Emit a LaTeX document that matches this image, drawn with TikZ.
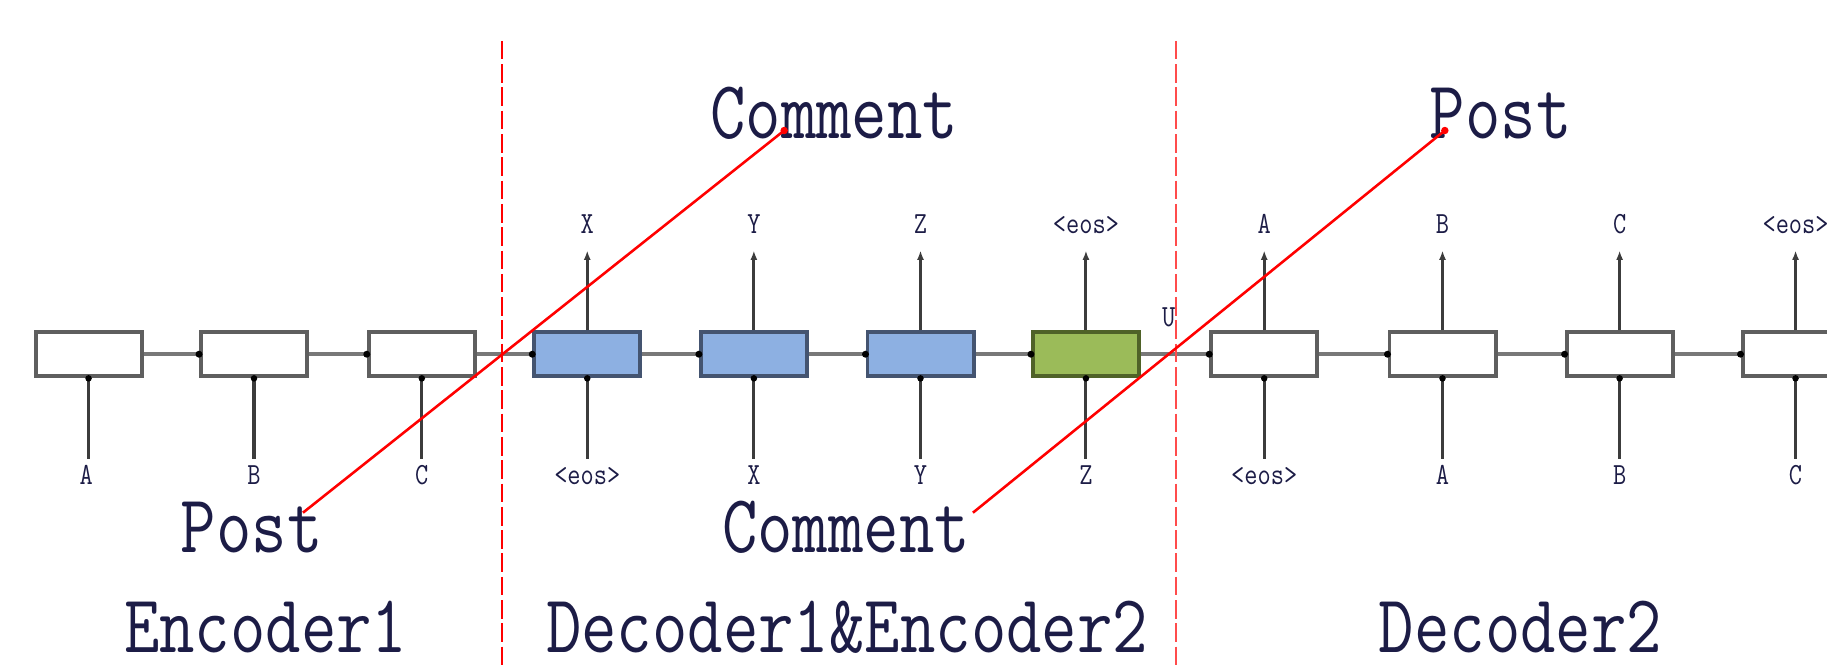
\documentclass[tikz,border=0pt]{standalone}
\usepackage{fontspec}
\usetikzlibrary{arrows.meta,calc}
\definecolor{txt}{RGB}{28,28,70}
\definecolor{boxline}{RGB}{95,95,95}
\definecolor{conn}{RGB}{120,120,120}
\definecolor{legc}{RGB}{60,60,60}
\definecolor{bluefill}{RGB}{141,176,226}
\definecolor{blueline}{RGB}{68,84,112}
\definecolor{greenfill}{RGB}{155,187,89}
\definecolor{greenline}{RGB}{79,98,40}
\newcommand{\tallA}[1]{\scalebox{1}[1.2]{#1}}
\newcommand{\tallB}[1]{\scalebox{1}[1.2]{#1}}
\tikzset{
  cell/.style={draw=boxline, line width=1.7pt, fill=white, minimum width=45.5pt, minimum height=19pt, inner sep=0pt},
  cellblue/.style={cell, draw=blueline, fill=bluefill},
  cellgreen/.style={cell, draw=greenline, fill=greenfill},
  bigtxt/.style={font=\fontsize{29.5}{31}\selectfont\ttfamily, text=txt, inner sep=0pt, anchor=base},
  smalltxt/.style={font=\fontsize{11}{12}\selectfont\ttfamily, text=txt, inner sep=0pt, anchor=base, text height=8pt, text depth=0pt},
  toplbl/.style={smalltxt, outer ysep=7.5pt},
  botlbl/.style={smalltxt, outer ysep=3pt},
  link/.style={draw=conn, line width=1.8pt},
  leg/.style={draw=legc, line width=1.3pt},
  uparr/.style={leg, -{Latex[length=4pt,width=3pt]}},
  divider/.style={draw=red, line width=1pt, dash pattern=on 8pt off 2pt},
  redlink/.style={draw=red, line width=1.1pt},
}
\begin{document}
\begin{tikzpicture}[x=0.5pt,y=-0.5pt]
\clip (0,0) rectangle (1568,570);
\fill[white] (0,0) rectangle (1568,570);

% boxes
\node[cell] (b1) at (76,304) {};
\node[cell] (b2) at (218,304) {};
\node[cell] (b3) at (362,304) {};
\node[cellblue] (b4) at (504,304) {};
\node[cellblue] (b5) at (647,304) {};
\node[cellblue] (b6) at (790,304) {};
\node[cellgreen] (b7) at (932,304) {};
\node[cell] (b8) at (1085,304) {};
\node[cell] (b9) at (1238,304) {};
\node[cell] (b10) at (1390,304) {};
\node[cell] (b11) at (1541,304) {};
\coordinate (bend) at (1600,304);

% bottom labels
\node[botlbl] (i1) at (74,416) {\tallB{A}};
\node[botlbl] (i2) at (218,416) {\tallB{B}};
\node[botlbl] (i3) at (362,416) {\tallB{C}};
\node[botlbl] (i4) at (504,416) {\tallB{<eos>}};
\node[botlbl] (i5) at (647,416) {\tallB{X}};
\node[botlbl] (i6) at (790,416) {\tallB{Y}};
\node[botlbl] (i7) at (932,416) {\tallB{Z}};
\node[botlbl] (i8) at (1085,416) {\tallB{<eos>}};
\node[botlbl] (i9) at (1238,416) {\tallB{A}};
\node[botlbl] (i10) at (1390,416) {\tallB{B}};
\node[botlbl] (i11) at (1541,416) {\tallB{C}};

% top labels
\node[toplbl] (o4) at (504,200) {\tallB{X}};
\node[toplbl] (o5) at (647,200) {\tallB{Y}};
\node[toplbl] (o6) at (790,200) {\tallB{Z}};
\node[toplbl] (o7) at (932,200) {\tallB{<eos>}};
\node[toplbl] (o8) at (1085,200) {\tallB{A}};
\node[toplbl] (o9) at (1238,200) {\tallB{B}};
\node[toplbl] (o10) at (1390,200) {\tallB{C}};
\node[toplbl] (o11) at (1541,200) {\tallB{<eos>}};
\node[smalltxt] (u) at (1003,280) {\tallB{U}};

% horizontal links
\foreach \a/\b in {b1/b2,b2/b3,b3/b4,b4/b5,b5/b6,b6/b7,b7/b8,b8/b9,b9/b10,b10/b11}{
  \draw[link] (\a.east) -- (\b.west);
  \fill (\b.west) circle (1.5pt);
}
\draw[link] (b11.east) -- (bend);

% input legs
\foreach \i in {1,...,11}{
  \draw[leg] (b\i.south) -- (b\i.south |- i\i.north);
  \fill (b\i.south) circle (1.4pt);
}
% output legs
\foreach \i in {4,...,11}{
  \draw[uparr] (b\i.north) -- (b\i.north |- o\i.south);
}

% dividers
\coordinate (d1t) at (431,35);
\coordinate (d1b) at (431,580);
\coordinate (d2t) at (1009,35);
\coordinate (d2b) at (1009,580);
\draw[divider] (d1t) -- (d1b);
\draw[divider, draw=red!70] (d2t) -- (d2b);

% big texts
\node[bigtxt] (commTop) at (716,119) {\tallA{Comment}};
\node[bigtxt] (postTop) at (1288,119) {\tallA{Post}};
\node[bigtxt] (postBot) at (216,474) {\tallA{Post}};
\node[bigtxt] (commBot) at (726,474) {\tallA{Comment}};
\node[bigtxt] (enc1) at (228,560) {\tallA{Encoder1}};
\node[bigtxt] (dec1) at (727,560) {\tallA{Decoder1\&Encoder2}};
\node[bigtxt] (dec2) at (1305,560) {\tallA{Decoder2}};

% red links
\coordinate (r1a) at (260,440);
\coordinate (r1b) at (673,112);
\coordinate (r2a) at (835,440);
\coordinate (r2b) at (1240,112);
\draw[redlink] (r1a) -- (r1b);
\draw[redlink] (r2a) -- (r2b);
\fill[red] (r1b) circle (1.6pt);
\fill[red] (r2b) circle (1.6pt);
\end{tikzpicture}
\end{document}
